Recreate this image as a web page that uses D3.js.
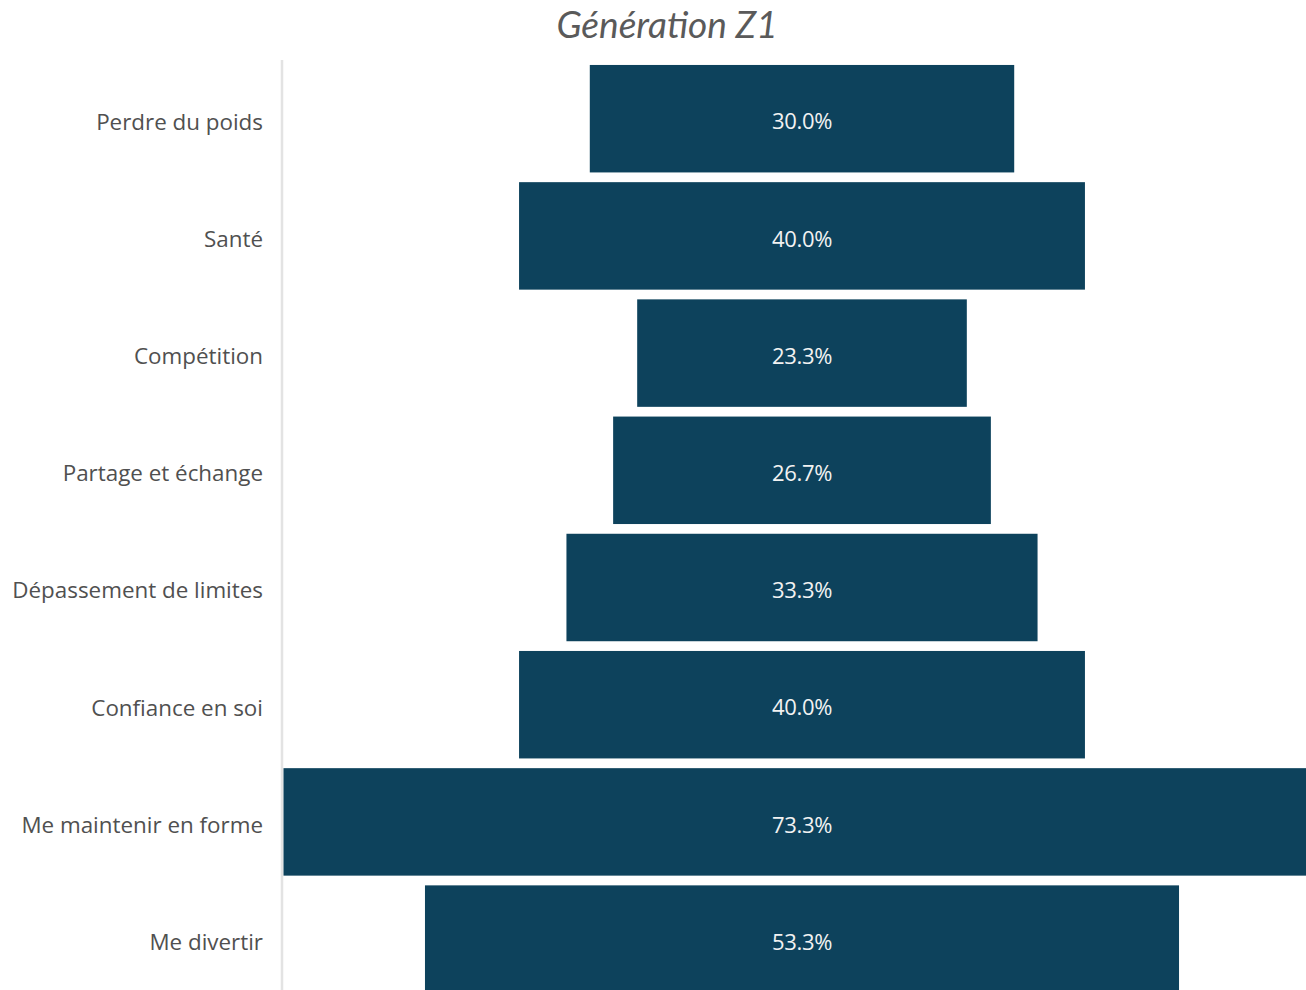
<!DOCTYPE html>
<html><head><meta charset="utf-8">
<script src="https://cdn.jsdelivr.net/npm/d3@7"></script>
<style>html,body{margin:0;padding:0;background:#fff;overflow:hidden}</style>
</head><body>
<svg id="c" width="1306" height="990"></svg>
<script>
const categories = ["Perdre du poids","Santé","Compétition","Partage et échange","Dépassement de limites","Confiance en soi","Me maintenir en forme","Me divertir"];
const values = [30.0, 40.0, 23.3, 26.7, 33.3, 40.0, 73.3, 53.3];
const valueLabels = ["30.0%","40.0%","23.3%","26.7%","33.3%","40.0%","73.3%","53.3%"];
const title = "Génération Z1";

const svg = d3.select("#c");
const cx = 802;
const w = d3.scaleLinear().domain([0, 73.3]).range([0, 1037]);
const y = d3.scaleBand().domain(categories).range([60.1, 60.1 + 117.2*8]).paddingInner(0.083).paddingOuter(0.0415);

svg.append("text").attr("x", 667).attr("y", 38).attr("text-anchor","middle")
  .attr("font-family","Lato").attr("font-style","italic").attr("font-size",37)
  .attr("fill","#5a5a5a").text(title);

svg.append("line").attr("x1",282).attr("x2",282).attr("y1",60).attr("y2",990)
  .attr("stroke","#e3e3e3").attr("stroke-width",2.5);

const g = svg.selectAll("g.row").data(categories.map((c,i)=>({c, v:values[i], l:valueLabels[i]}))).join("g");
g.append("rect").attr("x", d=>cx - w(d.v)/2).attr("y", d=>y(d.c)).attr("width", d=>w(d.v)).attr("height", y.bandwidth())
  .attr("fill","#0d425c");
g.append("text").attr("x", cx).attr("y", d=>y(d.c)+y.bandwidth()/2+3).attr("dy","0.35em").attr("text-anchor","middle")
  .attr("font-family","Open Sans").attr("font-size",22).attr("letter-spacing",-0.3).attr("fill","#f2f2f2").text(d=>d.l);
g.append("text").attr("x", 263).attr("y", d=>y(d.c)+y.bandwidth()/2+3).attr("dy","0.35em").attr("text-anchor","end")
  .attr("font-family","Open Sans").attr("font-size",22.4).attr("fill","#505050").text(d=>d.c);
</script>
</body></html>
